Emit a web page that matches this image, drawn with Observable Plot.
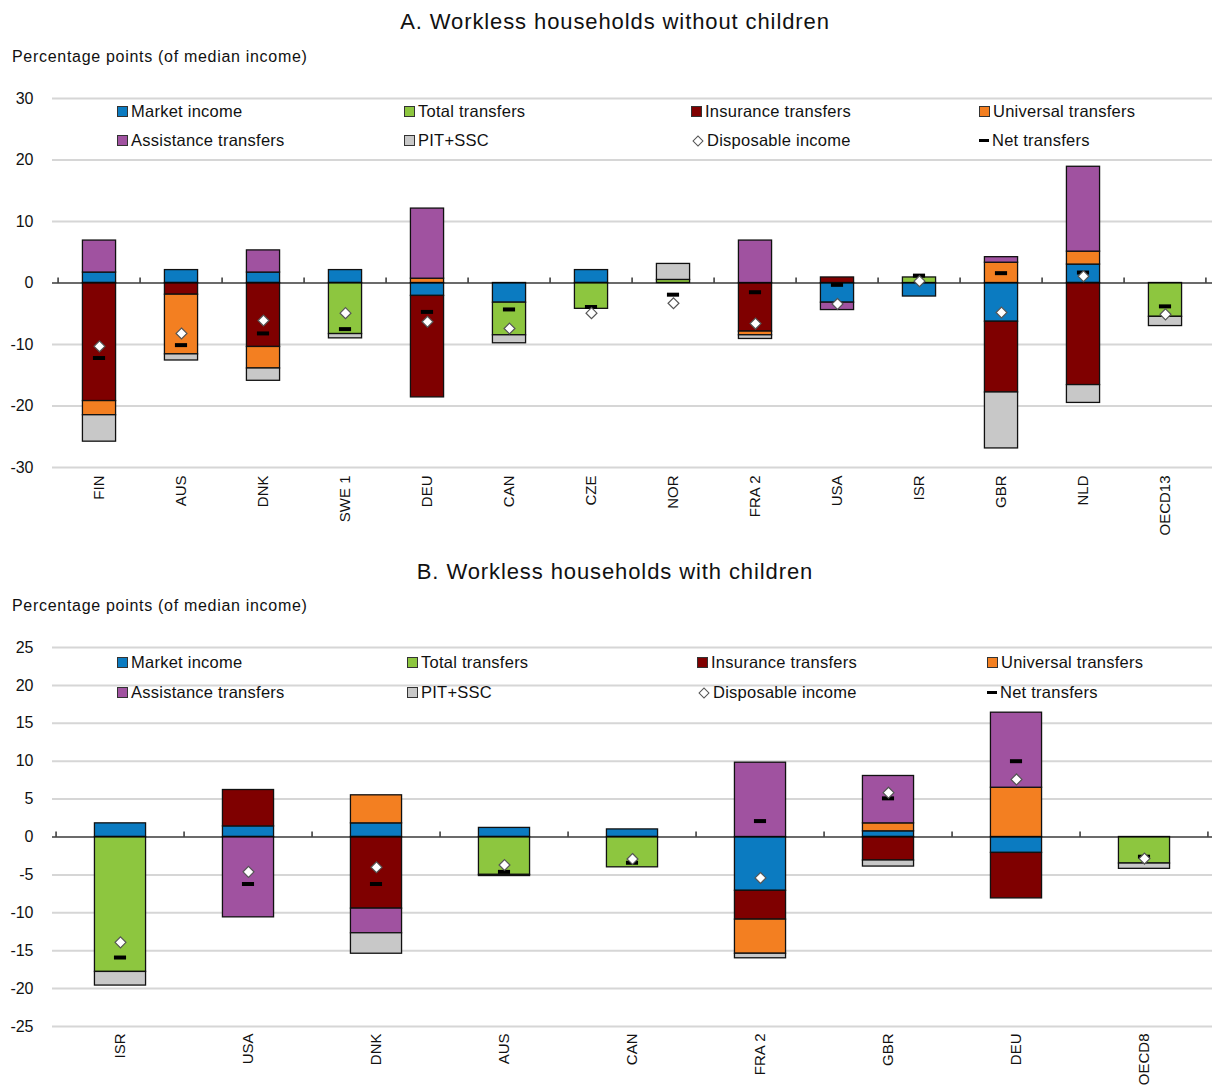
<!DOCTYPE html>
<html>
<head>
<meta charset="utf-8">
<script src="https://cdn.jsdelivr.net/npm/d3@7"></script>
<script src="https://cdn.jsdelivr.net/npm/@observablehq/plot@0.6"></script>
<style>
  body { margin: 0; background: #fff; font-family: "Liberation Sans", Arial, sans-serif; color: #111; }
  #root { position: relative; width: 1212px; height: 1091px; overflow: hidden; }
  .abs { position: absolute; }
  .title { font-size: 22px; width: 1212px; text-align: center; left: 9px; letter-spacing: 0.9px; }
  .sub { font-size: 16px; left: 12px; letter-spacing: 0.7px; }
  .leg { font-size: 16.5px; white-space: nowrap; display: flex; align-items: center; letter-spacing: 0.25px; }
  .sw { display: inline-block; width: 9px; height: 9px; border: 1.5px solid #333; margin-right: 3px; }
  .dia { display: inline-block; width: 6px; height: 6px; border: 1.3px solid #555; background: #fff; transform: rotate(45deg); margin: 0 5px 0 3px; }
  .dash { display: inline-block; width: 10px; height: 3px; background: #000; margin-right: 3px; }
</style>
</head>
<body>
<div id="root"></div>
<script>
// ---- Series definitions ----
const seriesNames = ["Market income", "Total transfers", "Insurance transfers", "Universal transfers", "Assistance transfers", "PIT+SSC"];
const seriesColors = ["#0b7bc1", "#8dc63f", "#7f0000", "#f37f21", "#a052a0", "#c8c8c8"];

// ---- Panel A: Workless households without children ----
const catsA = ["FIN", "AUS", "DNK", "SWE 1", "DEU", "CAN", "CZE", "NOR", "FRA 2", "USA", "ISR", "GBR", "NLD", "OECD13"];
const marketA     = [1.7, 2.1, 1.7, 2.1, -2.1, -3.2, 2.1, 0, 0, -3.2, -2.2, -6.3, 3.0, 0];
const totalA      = [0, 0, 0, -8.3, 0, -5.3, -4.2, 0.5, 0, 0, 0.9, 0, 0, -5.5];
const insuranceA  = [-19.2, -1.9, -10.4, 0, -16.5, 0, 0, 0, -7.9, 0.9, 0, -11.5, -16.6, 0];
const universalA  = [-2.3, -9.7, -3.5, 0, 0.7, 0, 0, 0, -0.6, 0, 0, 3.3, 2.1, 0];
const assistanceA = [5.2, 0, 3.6, 0, 11.4, 0, 0, 0, 6.9, -1.2, 0, 0.9, 13.8, 0];
const pitA        = [-4.3, -1.0, -2.0, -0.7, 0, -1.3, 0, 2.6, -0.6, 0, 0, -9.1, -2.9, -1.5];
const disposableA = [-10.3, -8.2, -6.1, -4.9, -6.3, -7.4, -4.9, -3.3, -6.6, -3.4, 0.3, -4.8, 1.1, -5.1];
const netA        = [-12.2, -10.1, -8.2, -7.5, -4.7, -4.3, -3.9, -1.9, -1.5, -0.3, 1.2, 1.6, 1.7, -3.8];
const ticksA = [-30, -20, -10, 0, 10, 20, 30];

// ---- Panel B: Workless households with children ----
const catsB = ["ISR", "USA", "DNK", "AUS", "CAN", "FRA 2", "GBR", "DEU", "OECD8"];
const marketB     = [1.8, 1.4, 1.8, 1.2, 1.0, -7.1, 0.75, -2.1, 0];
const totalB      = [-17.8, 0, 0, -5.0, -4.0, 0, 0, 0, -3.5];
const insuranceB  = [0, 4.8, -9.45, 0, 0, -3.8, -3.1, -6.0, 0];
const universalB  = [0, 0, 3.7, 0, 0, -4.5, 1.05, 6.5, 0];
const assistanceB = [0, -10.6, -3.25, 0, 0, 9.8, 6.25, 9.9, 0];
const pitB        = [-1.8, 0, -2.7, -0.15, 0, -0.6, -0.8, 0, -0.7];
const disposableB = [-13.9, -4.6, -4.0, -3.7, -2.9, -5.4, 5.85, 7.6, -2.85];
const netB        = [-15.9, -6.2, -6.2, -4.6, -3.4, 2.1, 5.1, 10.0, -2.6];
const ticksB = [-25, -20, -15, -10, -5, 0, 5, 10, 15, 20, 25];

const root = document.getElementById("root");
function addDiv(cls, text, left, top) {
  const d = document.createElement("div");
  d.className = "abs " + cls;
  if (text != null) d.textContent = text;
  if (left != null) d.style.left = left + "px";
  d.style.top = top + "px";
  root.appendChild(d);
  return d;
}

function makePanel(cats, seriesVals, disp, net, ticks, yDomain, opts) {
  const W = 1212, mL = 52, mR = 0;
  const bw = (W - mL - mR) / cats.length;
  const stacked = [];
  cats.forEach((c, i) => seriesVals.forEach((vals, j) => {
    if (vals[i] !== 0) stacked.push({cat: c, series: seriesNames[j], value: vals[i]});
  }));
  const dispData = cats.map((c, i) => ({cat: c, value: disp[i]}));
  const netData = cats.map((c, i) => ({cat: c, value: net[i]}));
  const barW = opts.barW, dashW = 13;
  return Plot.plot({
    width: W, height: opts.height,
    marginTop: opts.mT, marginBottom: opts.mB, marginLeft: mL, marginRight: mR,
    style: {fontFamily: "'Liberation Sans', Arial, sans-serif", fontSize: "15px", color: "#111", background: "transparent"},
    x: {domain: cats, padding: 0, axis: null},
    y: {domain: yDomain, axis: null},
    color: {domain: seriesNames, range: seriesColors},
    marks: [
      Plot.gridY(ticks, {stroke: "#d6d6d6", strokeOpacity: 1, strokeWidth: 2}),
      Plot.axisY(ticks, {tickSize: 0, tickPadding: 19, fontSize: 16, tickFormat: d => String(d), label: null}),
      Plot.axisX(cats, {tickRotate: -90, tickSize: 0, tickPadding: opts.xPad, fontSize: 15, label: null}),
      Plot.barY(stacked, {x: "cat", y: "value", fill: "series", stroke: "#111", strokeWidth: 1.3,
        insetLeft: (bw - barW) / 2, insetRight: (bw - barW) / 2}),
      Plot.ruleY([0], {stroke: "#000", strokeWidth: 1.2}),
      Plot.ruleX(cats, {x: d => d, y1: 0, y2: opts.tickLen, dx: -bw / 2, stroke: "#000", strokeWidth: 1.2}),
      Plot.ruleX([cats[cats.length - 1]], {x: d => d, y1: 0, y2: opts.tickLen, dx: bw / 2 - 1, stroke: "#000", strokeWidth: 1.2}),
      Plot.tickY(netData, {x: "cat", y: "value", stroke: "#000", strokeWidth: 4,
        insetLeft: (bw - dashW) / 2, insetRight: (bw - dashW) / 2}),
      Plot.dot(dispData, {x: "cat", y: "value", symbol: "diamond2", fill: "#fff", stroke: "#555", strokeWidth: 1.2, r: 4.9})
    ]
  });
}

function legend(cols, rows) {
  const items = [
    {name: seriesNames[0], kind: "sw", color: seriesColors[0]},
    {name: seriesNames[1], kind: "sw", color: seriesColors[1]},
    {name: seriesNames[2], kind: "sw", color: seriesColors[2]},
    {name: seriesNames[3], kind: "sw", color: seriesColors[3]},
    {name: seriesNames[4], kind: "sw", color: seriesColors[4]},
    {name: seriesNames[5], kind: "sw", color: seriesColors[5]},
    {name: "Disposable income", kind: "dia"},
    {name: "Net transfers", kind: "dash"}
  ];
  items.forEach((it, k) => {
    const d = addDiv("leg", null, cols[k % 4], rows[Math.floor(k / 4)] - 10);
    const s = document.createElement("span");
    s.className = it.kind;
    if (it.kind === "sw") s.style.background = it.color;
    d.appendChild(s);
    d.appendChild(document.createTextNode(it.name));
  });
}

// Panel A
addDiv("title", "A. Workless households without children", null, 9);
addDiv("sub", "Percentage points (of median income)", null, 48);
const svgA = makePanel(catsA, [marketA, totalA, insuranceA, universalA, assistanceA, pitA], disposableA, netA, ticksA, [-30, 30],
  {height: 472, mT: 23, mB: 80, barW: 34, xPad: 8, tickLen: 0.8});
const holderA = addDiv("", null, 0, 75);
holderA.appendChild(svgA);
legend([117, 404, 691, 979], [112, 141]);

// Panel B
addDiv("title", "B. Workless households with children", null, 559);
addDiv("sub", "Percentage points (of median income)", null, 597);
const svgB = makePanel(catsB, [marketB, totalB, insuranceB, universalB, assistanceB, pitB], disposableB, netB, ticksB, [-25, 25],
  {height: 466, mT: 22, mB: 65, barW: 52, xPad: 7, tickLen: 0.65});
const holderB = addDiv("", null, 0, 625);
holderB.appendChild(svgB);
legend([117, 407, 697, 987], [663, 693]);
</script>
</body>
</html>
